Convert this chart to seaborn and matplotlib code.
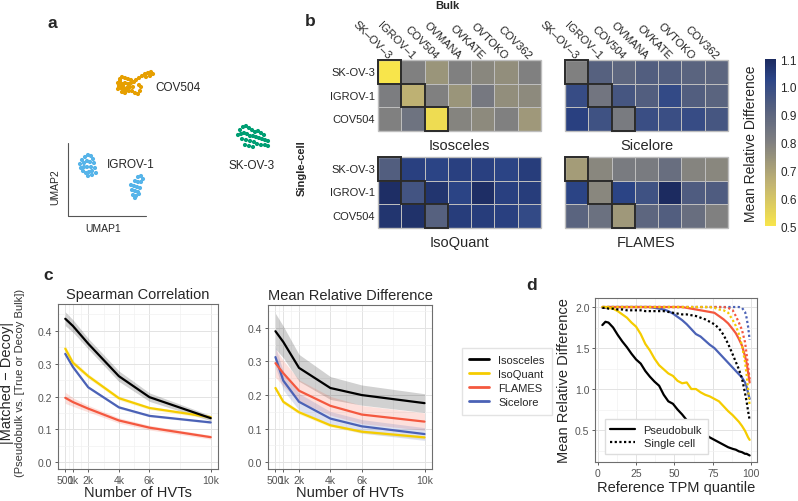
import matplotlib.pyplot as plt
import numpy as np
import pandas as pd
import seaborn as sns
from matplotlib.colors import LinearSegmentedColormap
from matplotlib.lines import Line2D
from matplotlib.patches import Rectangle

sns.set_theme(style="white")
plt.rcParams['font.family'] = ['Liberation Sans', 'DejaVu Sans']

### DATA ###

# panel a: UMAP embedding (image-like units, y grows downwards)
cov504_umap = [(118, 84), (120, 80), (122, 78), (125, 79), (128, 80), (131, 81), (119, 87), (122, 85),
               (125, 84), (128, 85), (131, 84), (134, 83), (118, 90), (121, 89), (124, 90), (127, 89),
               (130, 88), (133, 88), (122, 93), (125, 94), (129, 92), (132, 92), (135, 94), (138, 95),
               (140, 92), (141, 88), (139, 86), (136, 81), (139, 79), (142, 77), (145, 75), (148, 74),
               (151, 73), (153, 75), (150, 77), (146, 78), (120, 82), (123, 87), (126, 92)]
igrov1_umap = [(80, 165), (82, 161), (85, 158), (88, 156), (91, 157), (93, 160), (84, 164), (87, 162),
               (90, 163), (94, 164), (81, 169), (84, 168), (87, 168), (91, 168), (95, 169), (83, 172),
               (86, 174), (89, 173), (92, 172), (96, 174), (88, 177), (92, 176),
               (138, 178), (141, 177), (143, 180), (135, 182), (138, 183), (141, 183), (131, 186),
               (134, 187), (137, 188), (132, 191), (135, 192), (138, 193), (133, 196), (136, 197),
               (139, 195), (135, 199), (140, 189)]
skov3_umap = [(240, 131), (243, 128), (246, 127), (249, 129), (252, 131), (255, 133), (258, 132),
              (261, 134), (264, 136), (238, 136), (241, 135), (244, 134), (247, 135), (250, 137),
              (253, 137), (256, 138), (259, 139), (262, 140), (265, 141), (268, 142), (242, 140),
              (246, 141), (250, 142), (254, 143), (257, 145), (261, 146), (265, 146), (268, 147),
              (245, 146), (249, 147), (253, 148)]

# panel b: mean relative difference, single-cell rows vs bulk columns
bulk_lines = ['SK–OV–3', 'IGROV–1', 'COV504', 'OVMANA', 'OVKATE', 'OVTOKO', 'COV362']
sc_lines = ['SK-OV-3', 'IGROV-1', 'COV504']
mrd_isosceles = [[0.50, 0.80, 0.74, 0.80, 0.78, 0.76, 0.80],
                 [0.81, 0.66, 0.80, 0.74, 0.83, 0.76, 0.77],
                 [0.80, 0.85, 0.53, 0.79, 0.77, 0.80, 0.73]]
mrd_sicelore = [[0.80, 0.92, 0.90, 0.93, 0.93, 0.91, 0.90],
                [1.00, 0.84, 0.96, 0.93, 1.01, 0.93, 0.91],
                [1.04, 0.98, 0.82, 0.99, 0.99, 1.00, 0.96]]
mrd_isoquant = [[0.93, 1.04, 1.03, 1.04, 1.04, 1.03, 1.05],
                [1.09, 0.97, 1.07, 1.03, 1.09, 1.04, 1.05],
                [1.07, 1.08, 0.92, 1.05, 1.05, 1.04, 1.01]]
mrd_flames = [[0.72, 0.78, 0.82, 0.82, 0.87, 0.79, 0.78],
              [1.03, 0.78, 1.03, 0.98, 1.12, 0.94, 0.94],
              [0.91, 0.86, 0.73, 0.90, 0.93, 0.87, 0.80]]

# panel c: |matched - decoy| by number of HVTs
methods = ['Isosceles', 'IsoQuant', 'FLAMES', 'Sicelore']
colors = {'Isosceles': '#000000', 'IsoQuant': '#F5CC00', 'FLAMES': '#F4583F', 'Sicelore': '#4B62B6'}
hvts = [500, 1000, 2000, 4000, 6000, 10000]
hvt_labels = ['500', '1k', '2k', '4k', '6k', '10k']
spearman = {
    'Isosceles': [0.437, 0.415, 0.361, 0.262, 0.198, 0.134],
    'IsoQuant': [0.346, 0.303, 0.262, 0.195, 0.165, 0.137],
    'FLAMES': [0.196, 0.183, 0.163, 0.127, 0.105, 0.076],
    'Sicelore': [0.330, 0.290, 0.228, 0.167, 0.141, 0.121],
}
spearman_se = {
    'Isosceles': [0.021, 0.019, 0.016, 0.016, 0.013, 0.008],
    'IsoQuant': [0.009, 0.008, 0.007, 0.006, 0.005, 0.005],
    'FLAMES': [0.017, 0.013, 0.010, 0.008, 0.007, 0.006],
    'Sicelore': [0.005, 0.005, 0.004, 0.004, 0.003, 0.003],
}
mrd_hvt = {
    'Isosceles': [0.390, 0.358, 0.281, 0.221, 0.200, 0.176],
    'IsoQuant': [0.221, 0.180, 0.149, 0.110, 0.091, 0.074],
    'FLAMES': [0.295, 0.265, 0.213, 0.168, 0.142, 0.121],
    'Sicelore': [0.313, 0.243, 0.180, 0.130, 0.107, 0.084],
}
mrd_hvt_se = {
    'Isosceles': [0.053, 0.047, 0.040, 0.034, 0.030, 0.028],
    'IsoQuant': [0.007, 0.006, 0.006, 0.005, 0.005, 0.005],
    'FLAMES': [0.042, 0.038, 0.032, 0.028, 0.027, 0.026],
    'Sicelore': [0.030, 0.028, 0.025, 0.021, 0.020, 0.019],
}

# panel d: mean relative difference by reference TPM quantile
tpm_quantile = [3, 5, 7, 10, 13, 16, 19, 22, 25, 28, 31, 34, 37, 40, 43, 46, 49, 52, 55, 58,
                61, 64, 67, 70, 73, 76, 79, 82, 85, 88, 90, 92, 94, 96, 97, 98, 99]
pseudobulk = {
    'Isosceles': [1.78, 1.82, 1.81, 1.75, 1.66, 1.58, 1.51, 1.43, 1.36, 1.31, 1.22, 1.15, 1.09,
                  1.04, 0.93, 0.85, 0.82, 0.75, 0.69, 0.62, 0.57, 0.52, 0.47, 0.45, 0.41, 0.38,
                  0.35, 0.32, 0.29, 0.27, 0.26, 0.24, 0.23, 0.21, 0.21, 0.20, 0.19],
    'IsoQuant': [2.00, 2.00, 1.99, 1.98, 1.95, 1.91, 1.87, 1.81, 1.76, 1.67, 1.55, 1.47, 1.37,
                 1.29, 1.24, 1.19, 1.16, 1.10, 1.07, 1.08, 1.00, 1.00, 0.96, 0.93, 0.91, 0.88,
                 0.85, 0.79, 0.73, 0.68, 0.64, 0.60, 0.55, 0.49, 0.45, 0.41, 0.38],
    'FLAMES': [2.00] * 19 + [1.99, 1.98, 1.97, 1.96, 1.95, 1.94, 1.93, 1.89, 1.85, 1.80, 1.73,
                             1.68, 1.61, 1.53, 1.40, 1.32, 1.20, 1.08],
    'Sicelore': [1.99, 1.99, 2.00, 2.00, 2.00, 2.00, 2.00, 2.00, 2.00, 2.00, 2.00, 2.00, 1.99,
                 1.98, 1.97, 1.95, 1.92, 1.88, 1.84, 1.79, 1.73, 1.67, 1.64, 1.59, 1.54, 1.50,
                 1.44, 1.38, 1.32, 1.26, 1.22, 1.18, 1.14, 1.08, 1.03, 0.95, 0.88],
}
single_cell = {
    'Isosceles': [1.99, 1.99, 1.98, 1.98, 1.97, 1.97, 1.96, 1.96, 1.96, 1.96, 1.95, 1.95, 1.95,
                  1.95, 1.95, 1.94, 1.93, 1.92, 1.91, 1.91, 1.90, 1.89, 1.87, 1.85, 1.82, 1.79,
                  1.74, 1.66, 1.55, 1.42, 1.33, 1.24, 1.13, 0.95, 0.85, 0.73, 0.62],
    'IsoQuant': [2.00] * 25 + [1.99, 1.97, 1.96, 1.93, 1.84, 1.77, 1.67, 1.53, 1.33, 1.18, 1.00, 0.80],
    'FLAMES': [2.00] * 28 + [1.99, 1.96, 1.89, 1.81, 1.72, 1.57, 1.43, 1.27, 1.12],
    'Sicelore': [2.00] * 32 + [1.99, 1.94, 1.87, 1.76, 1.60],
}

### LAYOUT HELPERS ###

W, H = 798, 502
fig = plt.figure(figsize=(W / 100, H / 100), dpi=100)


def box(l, t, r, b):
    return [l / W, 1 - b / H, (r - l) / W, (b - t) / H]


def ftext(x, y, s, **kw):
    return fig.text(x / W, 1 - y / H, s, **kw)


def gg_style(ax):
    ax.set_facecolor('white')
    for sp in ax.spines.values():
        sp.set_color('#6E6E6E')
        sp.set_linewidth(0.8)
    ax.grid(True, which='major', color='#E3E3E3', lw=0.7)
    ax.grid(True, which='minor', color='#F1F1F1', lw=0.5)
    ax.set_axisbelow(True)
    ax.tick_params(which='major', direction='out', length=2.5, width=0.6, color='#444444',
                   labelcolor='#555555', labelsize=7.5, pad=1.5, bottom=True, left=True)
    ax.tick_params(which='minor', length=0)


### PANEL A ###

ax_a = fig.add_axes(box(40, 40, 300, 250))
umap = pd.concat([
    pd.DataFrame(cov504_umap, columns=['UMAP1', 'UMAP2']).assign(cell='COV504'),
    pd.DataFrame(igrov1_umap, columns=['UMAP1', 'UMAP2']).assign(cell='IGROV-1'),
    pd.DataFrame(skov3_umap, columns=['UMAP1', 'UMAP2']).assign(cell='SK-OV-3'),
])
sns.scatterplot(data=umap, x='UMAP1', y='UMAP2', hue='cell', ax=ax_a, s=9, linewidth=0,
                palette={'COV504': '#E69F00', 'IGROV-1': '#56B4E9', 'SK-OV-3': '#009E73'},
                legend=False)
ax_a.set_xlim(40, 300)
ax_a.set_ylim(250, 40)
ax_a.axis('off')
ax_a.text(155, 88, 'COV504', va='center', fontsize=8.5)
ax_a.text(107, 165, 'IGROV-1', va='center', fontsize=8.5)
ax_a.text(252, 166, 'SK-OV-3', va='center', ha='center', fontsize=8.5)
ax_a.add_line(Line2D([68, 68, 146], [144, 217, 217], color='#555555', lw=0.8))
ax_a.text(55, 187, 'UMAP2', rotation=90, ha='center', va='center', fontsize=7.5)
ax_a.text(103, 229, 'UMAP1', ha='center', va='center', fontsize=7.5)

### PANEL B ###

mrd_cmap = LinearSegmentedColormap.from_list('mrd', [
    (0.0, '#F8E54B'), (0.25, '#C2B472'), (0.5, '#808080'),
    (0.72, '#525E7F'), (0.88, '#2C4587'), (1.0, '#1C2B60')])

heat_specs = [
    ('Isosceles', mrd_isosceles, (378, 61, 541, 132), True, True),
    ('Sicelore', mrd_sicelore, (565, 61, 728, 132), True, False),
    ('IsoQuant', mrd_isoquant, (378, 158, 541, 229), False, True),
    ('FLAMES', mrd_flames, (565, 158, 728, 229), False, False),
]
mesh = None
for name, vals, pos, top, left in heat_specs:
    ax = fig.add_axes(box(*pos))
    df = pd.DataFrame(vals, index=sc_lines, columns=bulk_lines)
    sns.heatmap(df, ax=ax, cmap=mrd_cmap, vmin=0.5, vmax=1.1, cbar=False,
                linewidths=0.6, linecolor='#BDBDBD',
                xticklabels=top, yticklabels=left)
    mesh = ax.collections[0]
    ax.add_patch(Rectangle((0, 0), len(bulk_lines), len(sc_lines), fill=False,
                           ec='#BDBDBD', lw=1.0, clip_on=False))
    for i in range(len(sc_lines)):
        ax.add_patch(Rectangle((i, i), 1, 1, fill=False, ec='#2A2A2A', lw=1.4, clip_on=False, zorder=5))
    ax.set_xlabel('')
    ax.set_ylabel('')
    ax.tick_params(length=0, pad=2)
    if top:
        ax.xaxis.tick_top()
        ax.set_xticklabels(bulk_lines, rotation=-45, ha='right', va='center',
                           rotation_mode='anchor', fontsize=8)
    if left:
        ax.set_yticklabels(sc_lines, rotation=0, fontsize=8)
    ax.text(0.5, -0.1, name, transform=ax.transAxes, ha='center', va='top', fontsize=10.5)

cax = fig.add_axes(box(765, 60, 776, 227))
cb = fig.colorbar(mesh, cax=cax, ticks=[0.5, 0.6, 0.7, 0.8, 0.9, 1.0, 1.1])
cb.outline.set_visible(False)
cax.tick_params(length=0, labelsize=8.5, pad=3)
cax.set_yticklabels(['0.5', '0.6', '0.7', '0.8', '0.9', '1.0', '1.1'])
cax.yaxis.set_label_position('left')
cax.set_ylabel('Mean Relative Difference', fontsize=10, labelpad=5)

ftext(447, 6, 'Bulk', ha='center', va='center', fontsize=8, fontweight='bold')
ftext(302, 168, 'Single-cell', ha='center', va='center', rotation=90, fontsize=8, fontweight='bold')

### PANEL C ###

c_specs = [
    ('Spearman Correlation', spearman, spearman_se, (58, 305, 218, 470), (-0.021, 0.482)),
    ('Mean Relative Difference', mrd_hvt, mrd_hvt_se, (268, 306, 432, 470), (-0.020, 0.468)),
]
for title, vals, se, pos, ylim in c_specs:
    ax = fig.add_axes(box(*pos))
    gg_style(ax)
    rows = []
    for m in methods:
        for x, v, e in zip(hvts, vals[m], se[m]):
            rows.append({'HVTs': x, 'value': v, 'lo': v - e, 'hi': v + e, 'method': m})
    cdf = pd.DataFrame(rows)
    for m in methods:
        sub = cdf[cdf.method == m]
        ax.fill_between(sub.HVTs, sub.lo, sub.hi, color=colors[m], alpha=0.18, lw=0)
    sns.lineplot(data=cdf, x='HVTs', y='value', hue='method', hue_order=methods[::-1],
                 palette=colors, lw=1.6, legend=False, ax=ax)
    ax.set_xlim(25, 10475)
    ax.set_ylim(*ylim)
    ax.set_xticks(hvts)
    ax.set_xticklabels(hvt_labels)
    ax.set_xticks([750, 1500, 3000, 5000, 8000], minor=True)
    ax.set_yticks([0.0, 0.1, 0.2, 0.3, 0.4])
    ax.set_yticks([0.05, 0.15, 0.25, 0.35, 0.45], minor=True)
    ax.set_title(title, fontsize=10.5, pad=4)
    ax.set_xlabel('Number of HVTs', fontsize=10.5, labelpad=0)
    ax.set_ylabel('')

ftext(7, 383, '|Matched − Decoy|', rotation=90, ha='center', va='center', fontsize=10.5)
ftext(20, 383, '(Pseudobulk vs. [True or Decoy Bulk])', rotation=90, ha='center', va='center',
      fontsize=8, color='#333333')

c_handles = [Line2D([], [], color=colors[m], lw=2) for m in methods]
fig.legend(c_handles, methods, loc='upper left', bbox_to_anchor=(456 / W, 1 - 343 / H),
           fontsize=8, frameon=True, fancybox=False, edgecolor='#DDDDDD', handlelength=1.8,
           borderpad=0.7, labelspacing=0.35, handletextpad=0.8)

### PANEL D ###

ax_d = fig.add_axes(box(595, 299, 757, 463))
gg_style(ax_d)
drows = []
for kind, dset in [('Single cell', single_cell), ('Pseudobulk', pseudobulk)]:
    for m in methods[::-1]:
        for q, v in zip(tpm_quantile, dset[m]):
            drows.append({'quantile': q, 'mrd': v, 'method': m, 'kind': kind})
ddf = pd.DataFrame(drows)
sns.lineplot(data=ddf, x='quantile', y='mrd', hue='method', style='kind',
             hue_order=methods[::-1], palette=colors,
             dashes={'Pseudobulk': '', 'Single cell': (1, 1.1)}, lw=1.6, legend=False, ax=ax_d)
ax_d.set_xlim(-1.8, 103.8)
ax_d.set_ylim(0.11, 2.11)
ax_d.set_xticks([0, 25, 50, 75, 100])
ax_d.set_xticks([12.5, 37.5, 62.5, 87.5], minor=True)
ax_d.set_yticks([0.5, 1.0, 1.5, 2.0])
ax_d.set_yticks([0.25, 0.75, 1.25, 1.75], minor=True)
ax_d.set_xlabel('Reference TPM quantile', fontsize=10.5, labelpad=2)
ax_d.set_ylabel('Mean Relative Difference', fontsize=10.5, labelpad=3)
d_handles = [Line2D([], [], color='black', lw=1.6),
             Line2D([], [], color='black', lw=1.6, dashes=(1, 1.1))]
ax_d.legend(d_handles, ['Pseudobulk', 'Single cell'], loc='lower left',
            bbox_to_anchor=(0.06, 0.05), borderaxespad=0, fontsize=8, frameon=True,
            fancybox=False, edgecolor='#DDDDDD', framealpha=1, handlelength=2.2,
            borderpad=0.5, labelspacing=0.3)

### PANEL LETTERS ###

for letter, x, y in [('a', 52, 23), ('b', 310, 21), ('c', 48, 276), ('d', 532, 285)]:
    ftext(x, y, letter, ha='center', va='center', fontsize=12.5, fontweight='bold')

fig.savefig('out.png', dpi=100)
